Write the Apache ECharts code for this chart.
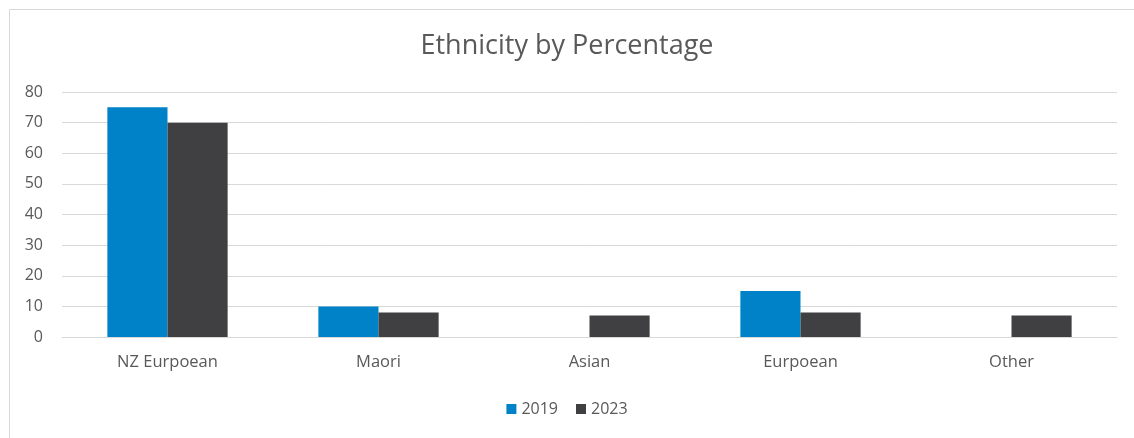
<!DOCTYPE html>
<html>
<head>
<meta charset="utf-8">
<script src="https://cdn.jsdelivr.net/npm/echarts@6/dist/echarts.min.js"></script>
<style>html,body{margin:0;padding:0;background:#fff;}#c{width:1134px;height:438px;}</style>
</head>
<body>
<div id="c"></div>
<script>
const categories = ["NZ Eurpoean", "Maori", "Asian", "Eurpoean", "Other"];
const values2019 = [75, 10, 0, 15, 0];
const values2023 = [70, 8, 7, 8, 7];
const yTicks = { min: 0, max: 80, interval: 10 };

const FONT = "'Open Sans', 'Liberation Sans', sans-serif";
const TXT = '#595959';
const chart = echarts.init(document.getElementById('c'));
chart.setOption({
  animation: false,
  backgroundColor: '#fff',
  graphic: [{
    type: 'rect', left: 7, top: 7, silent: true,
    shape: { width: 1150, height: 450 },
    style: { fill: 'none', stroke: '#d9d9d9', lineWidth: 1 }
  }],
  title: {
    text: 'Ethnicity by Percentage', left: 'center', top: 28,
    textStyle: { fontFamily: FONT, fontSize: 27, fontWeight: 'normal', color: TXT }
  },
  legend: {
    bottom: 16, left: 'center', itemWidth: 10, itemHeight: 10, itemGap: 18,
    icon: 'rect',
    textStyle: { fontFamily: FONT, fontSize: 16, color: TXT },
    data: ['2019', '2023']
  },
  grid: { left: 62, right: 17, top: 92, bottom: 101, containLabel: false },
  xAxis: {
    type: 'category', data: categories,
    axisLine: { show: true, lineStyle: { color: '#d9d9d9' } },
    axisTick: { show: false },
    axisLabel: { fontFamily: FONT, fontSize: 16.5, color: TXT, margin: 17 }
  },
  yAxis: {
    type: 'value', min: yTicks.min, max: yTicks.max, interval: yTicks.interval,
    axisLine: { show: false }, axisTick: { show: false },
    splitLine: { lineStyle: { color: '#d9d9d9', width: 1 } },
    axisLabel: { fontFamily: FONT, fontSize: 16, color: TXT, margin: 19 }
  },
  series: [
    { name: '2019', type: 'bar', data: values2019, barGap: '0%', barCategoryGap: '43%',
      itemStyle: { color: '#0082C8' } },
    { name: '2023', type: 'bar', data: values2023, barGap: '0%', barCategoryGap: '43%',
      itemStyle: { color: '#404042' } }
  ]
});
</script>
</body>
</html>
